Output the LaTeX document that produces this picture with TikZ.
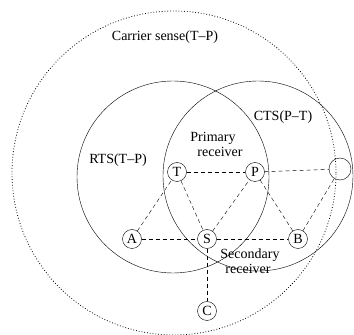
\documentclass[tikz,border=0pt]{standalone}
\usepackage{fontspec}
\setmainfont{Liberation Serif}
\usepackage{tikz}
\usetikzlibrary{calc}

\begin{document}
\begin{tikzpicture}[x=1pt, y=1pt, font=\fontsize{14}{15}\selectfont,
    station/.style={circle, draw, minimum size=19pt, inner sep=0pt},
    label/.style={inner sep=0pt},
    link/.style={dash pattern=on 4pt off 3pt}]
    \useasboundingbox (0,0) rectangle (354,335);
    \draw[dotted, thick](174,162) circle [radius=162];
    \draw(173,158) circle [radius=96];
    \draw(258,159) circle [radius=95];
    \node[label] (cs) at (165,298) {Carrier sense(T--P)};
    \node[label] (rts) at (118,175) {RTS(T--P)};
    \node[label] (cts) at (283,218) {CTS(P--T)};
    \node[label] (prim1) at (213,197) {Primary};
    \node[label] (prim2) at (220,183) {receiver};
    \node[label] (sec1) at (250,80) {Secondary};
    \node[label] (sec2) at (248,66) {receiver};
    \node[station] (T) at (177,163) {T};
    \node[station] (P) at (255,163) {P};
    \node[station, minimum size=22pt] (X) at (340,166) {};
    \node[station] (A) at (132,96) {A};
    \node[station] (S) at (207,96) {S};
    \node[station] (B) at (298,96) {B};
    \node[station] (C) at (207,24) {C};
    \draw[link](T)--(P);
    \draw[link](P)--(X);
    \draw[link](A)--(S);
    \draw[link](S)--(B);
    \draw[link](S)--(C);
    \draw[link](A)--(T);
    \draw[link](T)--(S);
    \draw[link](S)--(P);
    \draw[link](P)--(B);
    \draw[link](B)--(X);
\end{tikzpicture}
\end{document}
